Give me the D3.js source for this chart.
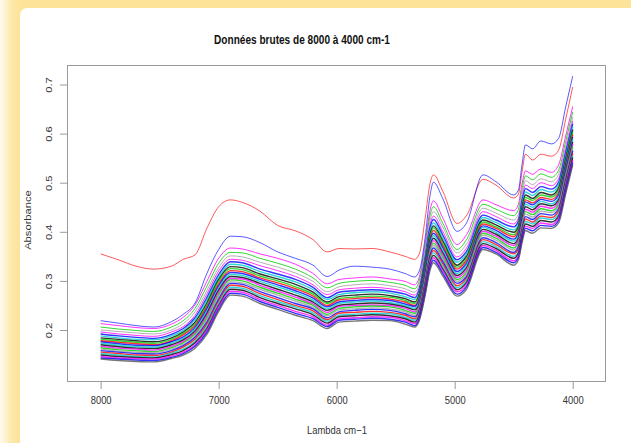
<!DOCTYPE html>
<html lang="fr">
<head>
<meta charset="UTF-8">
<title>Données brutes de 8000 à 4000 cm-1</title>
<script src="https://cdn.jsdelivr.net/npm/d3@7"></script>
<style>
  html, body { margin: 0; padding: 0; background: #fff; }
  svg { display: block; font-family: "Liberation Sans", Arial, sans-serif; }
</style>
</head>
<body>
<div id="chart"></div>
<script>
const wavenumbers = [8000,7850,7700,7550,7400,7300,7200,7100,7000,6900,6800,6650,6500,6350,6200,6080,5980,5850,5700,5550,5420,5340,5300,5250,5210,5180,5100,4980,4900,4760,4650,4500,4460,4430,4400,4340,4270,4180,4120,4060,4000];
const xTicks = [8000, 7000, 6000, 5000, 4000];
const yTicks = [0.2, 0.3, 0.4, 0.5, 0.6, 0.7];

// absorbance x 1000, one array per spectrum
const redSample  = [355,343,330,324,330,344,353,407,451,465,460,442,413,402,384,359,366,365,366,359,350,344,355,428,497,516,482,417,433,507,495,469,477,521,558,546,558,554,566,629,695];
const blueSample = [219,214,209,206,217,232,255,315,364,391,390,378,359,346,332,309,322,330,328,324,315,308,320,389,472,501,467,401,418,516,502,475,485,536,577,569,585,579,590,654,717];
const s01 = [213,209,205,203,212,226,251,299,346,367,365,355,346,334,315,294,303,306,308,304,299,292,308,377,443,463,428,374,394,465,455,443,456,497,524,517,528,521,536,595,655];
const s02 = [206,202,199,197,206,219,244,289,336,358,357,346,336,324,306,286,295,299,301,297,291,284,301,367,432,451,417,364,384,456,446,433,446,486,514,506,518,511,525,584,644];
const s03 = [200,197,194,192,200,213,237,280,327,351,349,338,328,316,299,278,288,292,294,290,284,277,294,359,422,441,409,357,375,448,438,424,436,476,504,496,508,502,517,575,634];
const s04 = [196,192,189,187,196,207,230,273,320,344,342,331,321,309,292,272,282,285,287,284,278,271,287,352,413,432,400,349,367,441,431,416,428,468,495,488,500,494,508,567,626];
const s05 = [192,188,185,183,191,203,225,266,313,339,337,324,314,303,287,266,277,280,282,279,273,266,282,346,407,425,393,343,360,434,424,410,422,461,488,480,492,487,501,560,620];
const s06 = [188,184,181,180,188,199,221,261,308,334,332,319,309,298,282,262,272,276,278,275,268,262,277,340,401,418,387,338,355,429,419,404,416,455,481,474,486,481,495,554,614];
const s07 = [184,181,178,176,184,196,216,255,303,329,327,314,304,293,277,257,268,271,273,270,264,257,273,335,394,412,381,332,350,424,414,399,411,449,475,468,480,475,489,548,608];
const s08 = [181,178,175,173,181,193,212,251,299,325,323,310,300,288,273,254,264,267,269,267,260,254,269,330,389,408,376,328,345,420,410,394,406,444,470,464,475,471,484,543,603];
const s09 = [178,175,172,170,178,190,209,247,294,321,319,306,296,284,269,250,261,264,266,263,257,250,265,326,384,403,371,324,341,416,407,390,402,439,465,459,470,466,479,538,598];
const s10 = [176,172,169,168,176,186,205,243,290,317,315,303,292,280,265,247,257,260,262,260,253,248,262,322,380,397,367,319,336,412,403,385,397,435,461,455,466,462,475,534,593];
const s11 = [173,169,166,165,173,183,202,238,285,313,311,299,288,276,261,243,254,257,259,256,250,244,258,318,375,392,362,315,332,409,399,381,393,430,456,450,462,457,470,529,588];
const s12 = [170,166,163,162,170,180,198,234,281,309,307,295,283,271,257,240,250,253,255,253,247,241,254,313,370,387,357,311,327,405,395,376,388,425,451,445,457,453,465,524,583];
const s13 = [167,163,161,159,167,177,195,230,277,305,304,291,279,267,253,236,248,250,251,250,244,237,251,309,365,382,353,307,323,401,391,372,383,420,446,440,452,448,461,519,579];
const s14 = [164,160,158,156,164,174,192,225,272,302,300,287,275,263,250,232,244,247,249,247,240,234,248,305,360,377,348,303,318,397,387,367,379,415,441,435,447,443,456,515,574];
const s15 = [161,157,155,154,161,171,188,221,268,298,296,283,271,259,246,229,241,243,245,243,237,230,244,301,356,372,344,299,314,393,383,363,374,411,436,430,442,439,452,511,570];
const s16 = [158,155,152,151,158,168,185,216,263,295,293,278,266,254,243,225,237,240,242,240,233,227,241,297,351,367,339,295,309,388,378,358,370,406,431,425,437,434,447,506,565];
const s17 = [155,152,149,148,155,165,181,212,259,291,289,274,262,250,239,221,234,236,238,236,230,223,237,293,346,362,334,290,305,384,374,355,365,401,426,420,432,429,442,501,560];
const s18 = [152,149,146,145,153,161,177,208,255,287,285,270,258,247,235,218,230,232,234,233,226,220,234,288,341,357,329,286,301,380,370,350,360,397,421,416,428,425,437,496,555];
const s19 = [149,146,144,143,150,158,174,203,250,283,281,266,254,243,231,214,227,229,231,229,223,216,230,284,336,352,324,282,297,376,366,346,357,392,416,411,423,420,432,491,551];
const s20 = [146,143,142,141,147,155,170,199,247,279,277,262,250,238,227,210,223,225,227,226,219,213,226,280,331,347,320,278,292,372,362,341,352,387,411,407,418,415,428,487,546];
const s21 = [143,141,139,138,144,152,167,195,242,275,273,258,246,234,223,207,220,222,224,222,216,209,223,275,326,342,315,273,288,368,358,337,348,382,407,402,413,411,423,482,541];
const s22 = [141,138,136,135,142,149,163,191,238,271,269,254,242,230,219,203,216,218,220,219,212,206,219,271,321,337,310,269,283,364,355,332,343,377,402,397,408,407,418,477,536];

const bundle = [s01,s02,s03,s04,s05,s06,s07,s08,s09,s10,s11,s12,s13,s14,s15,s16,s17,s18,s19,s20,s21,s22];
const bundleColors = ['#ff00ff','#00cd00','#9e9e9e','#ff00ff','#0000ff','#00cdcd','#000000','#00cd00','#ff0000','#0000ff','#00cdcd',
                      '#000000','#ff00ff','#00cd00','#9e9e9e','#0000ff','#ff0000','#00cdcd','#000000','#ff00ff','#0000ff','#555555'];

const width = 631;
const height = 443;
const squish = 0.84;   // picture text is narrower than it is tall

const svg = d3.select('#chart').append('svg')
  .attr('width', width)
  .attr('height', height);

// slide frame: pale yellow band on the left and top
const defs = svg.append('defs');
const grad = defs.append('linearGradient')
  .attr('id', 'frame')
  .attr('gradientUnits', 'userSpaceOnUse')
  .attr('x1', 0).attr('x2', 20).attr('y1', 0).attr('y2', 0);
grad.append('stop').attr('offset', 0).attr('stop-color', '#fffaf0');
grad.append('stop').attr('offset', 0.55).attr('stop-color', '#fee9ad');
grad.append('stop').attr('offset', 1).attr('stop-color', '#fde39a');

svg.append('rect').attr('width', width).attr('height', height).attr('fill', 'url(#frame)');
svg.append('rect')
  .attr('x', 20).attr('y', 8)
  .attr('width', 700).attr('height', 500)
  .attr('rx', 7)
  .attr('fill', '#fff');

const x = d3.scaleLinear().domain([8285, 3718]).range([67, 606]);
const y = d3.scaleLinear().domain([0.0941, 0.7397]).range([382, 65]);

const line = d3.line()
  .x((d, i) => x(wavenumbers[i]))
  .y(d => y(d / 1000))
  .curve(d3.curveMonotoneX);

const plot = svg.append('g')
  .attr('fill', 'none')
  .attr('stroke-opacity', 0.8);

plot.selectAll('path.sample')
  .data(bundle)
  .join('path')
  .attr('class', 'sample')
  .attr('stroke', (d, i) => bundleColors[i])
  .attr('stroke-width', (d, i) => i < 4 ? 1 : 1.4)
  .attr('d', line);

plot.append('path').datum(redSample).attr('stroke', '#ff0000').attr('stroke-opacity', 0.65).attr('d', line);
plot.append('path').datum(blueSample).attr('stroke', '#0000ff').attr('stroke-opacity', 0.65).attr('d', line);

// box
svg.append('rect')
  .attr('x', 67.5).attr('y', 65.5)
  .attr('width', 538).attr('height', 316)
  .attr('fill', 'none')
  .attr('stroke', '#9a9a9a');

// axes
const xAxis = svg.append('g')
  .attr('transform', 'translate(0,382)')
  .call(d3.axisBottom(x).tickValues(xTicks).tickSize(7).tickFormat(d3.format('d')));
xAxis.select('.domain').remove();
xAxis.selectAll('line').attr('stroke', '#9a9a9a');
xAxis.selectAll('text')
  .attr('y', 0).attr('dy', null)
  .attr('transform', `translate(0,22) scale(${squish},1)`)
  .attr('fill', '#333')
  .style('font-size', '11.2px');

const yAxis = svg.append('g')
  .attr('transform', 'translate(67,0)')
  .call(d3.axisLeft(y).tickValues(yTicks).tickSize(7).tickFormat(d3.format('.1f')));
yAxis.select('.domain').remove();
yAxis.selectAll('line').attr('stroke', '#9a9a9a');
yAxis.selectAll('text')
  .attr('x', 0).attr('dy', null)
  .attr('text-anchor', 'middle')
  .attr('transform', `translate(-15,0) scale(${squish},1) rotate(-90)`)
  .attr('fill', '#333')
  .style('font-size', '11.2px');

// texts
svg.append('text')
  .attr('transform', `translate(302,44) scale(${squish},1)`)
  .attr('text-anchor', 'middle')
  .style('font-size', '12px')
  .style('font-weight', 'bold')
  .attr('fill', '#111')
  .text('Données brutes de 8000 à 4000 cm-1');

svg.append('text')
  .attr('transform', `translate(337,434) scale(${squish},1)`)
  .attr('text-anchor', 'middle')
  .style('font-size', '11.2px')
  .attr('fill', '#333')
  .text('Lambda cm\u22121');

svg.append('text')
  .attr('transform', `translate(31,220) scale(${squish},1) rotate(-90)`)
  .attr('text-anchor', 'middle')
  .style('font-size', '11.2px')
  .attr('fill', '#333')
  .text('Absorbance');
</script>
</body>
</html>
